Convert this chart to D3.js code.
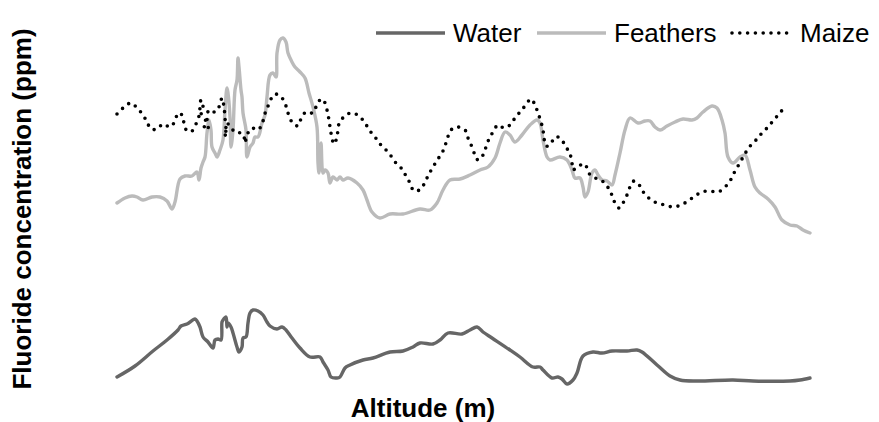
<!DOCTYPE html>
<html>
<head>
<meta charset="utf-8">
<script src="https://cdn.jsdelivr.net/npm/d3@7"></script>
<style>
    html, body { margin: 0; padding: 0; background: #fff; }
    svg text { font-family: "Liberation Sans", Arial, sans-serif; fill: #000; }
</style>
</head>
<body>
<svg id="chart"></svg>
<script>
// altitude (m) / fluoride (ppm) pairs
const waterAlt = [0, 72, 144, 200, 244, 256, 280, 312, 320, 332, 344, 364, 384, 392, 404, 416, 420, 424, 436, 440, 444, 456, 464, 480, 488, 500, 504, 516, 524, 532, 544, 564, 584, 600, 612, 640, 660, 676, 700, 732, 772, 812, 824, 844, 856, 880, 892, 912, 932, 984, 1024, 1092, 1144, 1184, 1212, 1264, 1292, 1324, 1380, 1412, 1440, 1464, 1500, 1572, 1612, 1664, 1692, 1704, 1740, 1764, 1780, 1800, 1824, 1840, 1864, 1904, 1940, 1980, 2040, 2080, 2100, 2160, 2212, 2252, 2320, 2464, 2544, 2692, 2732, 2772];
const waterPpm = [0.08, 0.19, 0.34, 0.45, 0.55, 0.59, 0.61, 0.66, 0.64, 0.58, 0.48, 0.43, 0.37, 0.45, 0.46, 0.45, 0.63, 0.65, 0.68, 0.58, 0.62, 0.58, 0.52, 0.38, 0.33, 0.38, 0.47, 0.48, 0.62, 0.72, 0.75, 0.74, 0.70, 0.63, 0.59, 0.56, 0.58, 0.55, 0.47, 0.37, 0.28, 0.28, 0.23, 0.15, 0.08, 0.07, 0.08, 0.17, 0.20, 0.25, 0.27, 0.33, 0.34, 0.38, 0.42, 0.41, 0.45, 0.52, 0.51, 0.55, 0.58, 0.53, 0.47, 0.35, 0.28, 0.18, 0.18, 0.15, 0.07, 0.08, 0.06, 0.01, 0.05, 0.12, 0.29, 0.33, 0.32, 0.34, 0.34, 0.35, 0.33, 0.20, 0.09, 0.05, 0.04, 0.05, 0.04, 0.04, 0.05, 0.07];

const feathersAlt = [0, 32, 60, 80, 104, 140, 172, 200, 220, 232, 252, 272, 300, 320, 328, 336, 344, 352, 360, 368, 376, 380, 392, 400, 412, 424, 432, 440, 444, 452, 456, 464, 472, 480, 484, 488, 496, 500, 504, 516, 520, 532, 544, 552, 564, 580, 592, 600, 612, 624, 636, 640, 652, 664, 676, 684, 700, 712, 732, 752, 768, 784, 800, 804, 808, 816, 824, 832, 844, 852, 864, 880, 892, 904, 924, 960, 984, 1000, 1020, 1052, 1092, 1144, 1212, 1252, 1280, 1304, 1332, 1372, 1412, 1452, 1484, 1512, 1532, 1552, 1572, 1592, 1620, 1652, 1680, 1692, 1704, 1720, 1732, 1772, 1800, 1820, 1832, 1852, 1864, 1872, 1884, 1900, 1912, 1924, 1940, 1960, 1980, 1992, 2012, 2032, 2052, 2084, 2112, 2132, 2152, 2172, 2200, 2232, 2264, 2300, 2320, 2344, 2380, 2400, 2420, 2432, 2444, 2464, 2492, 2512, 2532, 2552, 2572, 2604, 2632, 2660, 2692, 2720, 2744, 2772];
const feathersPpm = [1.82, 1.87, 1.89, 1.88, 1.85, 1.88, 1.88, 1.84, 1.76, 1.83, 2.06, 2.09, 2.09, 2.13, 2.05, 2.17, 2.23, 2.28, 2.52, 2.65, 2.55, 2.38, 2.32, 2.28, 2.35, 2.45, 2.75, 2.97, 2.92, 2.68, 2.38, 2.55, 2.95, 3.05, 3.27, 3.18, 2.95, 2.88, 2.72, 2.55, 2.28, 2.38, 2.42, 2.48, 2.48, 2.62, 2.70, 2.88, 3.10, 3.12, 3.08, 3.32, 3.45, 3.47, 3.43, 3.32, 3.23, 3.18, 3.13, 3.07, 2.92, 2.78, 2.58, 2.22, 2.12, 2.42, 2.12, 2.15, 2.12, 2.02, 2.08, 2.05, 2.08, 2.05, 2.07, 2.02, 1.95, 1.85, 1.73, 1.67, 1.71, 1.71, 1.76, 1.75, 1.82, 1.95, 2.05, 2.06, 2.10, 2.15, 2.18, 2.27, 2.42, 2.53, 2.50, 2.43, 2.50, 2.60, 2.65, 2.62, 2.45, 2.28, 2.25, 2.28, 2.25, 2.15, 2.07, 2.07, 1.98, 1.88, 1.93, 2.12, 2.15, 2.10, 2.05, 2.04, 2.00, 2.10, 2.32, 2.55, 2.67, 2.62, 2.64, 2.64, 2.58, 2.55, 2.59, 2.63, 2.66, 2.65, 2.67, 2.73, 2.79, 2.77, 2.65, 2.52, 2.28, 2.22, 2.28, 2.30, 2.15, 1.98, 1.92, 1.86, 1.78, 1.65, 1.60, 1.59, 1.55, 1.52];

const maizeAlt = [0, 24, 56, 80, 104, 120, 136, 160, 184, 212, 232, 244, 260, 268, 280, 300, 316, 328, 336, 344, 336, 348, 360, 344, 364, 360, 368, 384, 400, 412, 420, 428, 432, 436, 432, 444, 460, 476, 496, 508, 512, 520, 540, 560, 580, 588, 600, 612, 632, 660, 676, 684, 700, 724, 736, 756, 784, 796, 816, 828, 840, 848, 856, 868, 880, 888, 916, 944, 972, 992, 1012, 1032, 1052, 1076, 1096, 1116, 1140, 1156, 1172, 1188, 1216, 1232, 1248, 1264, 1284, 1304, 1316, 1336, 1360, 1392, 1404, 1420, 1432, 1444, 1464, 1476, 1488, 1504, 1524, 1548, 1572, 1592, 1612, 1632, 1656, 1672, 1684, 1696, 1704, 1708, 1716, 1732, 1752, 1772, 1796, 1812, 1820, 1824, 1840, 1872, 1884, 1904, 1936, 1960, 1976, 1988, 2008, 2024, 2040, 2052, 2068, 2092, 2108, 2132, 2160, 2192, 2224, 2256, 2284, 2312, 2340, 2372, 2404, 2432, 2452, 2468, 2484, 2500, 2516, 2536, 2560, 2580, 2604, 2624, 2648, 2668];
const maizePpm = [2.71, 2.77, 2.82, 2.77, 2.70, 2.63, 2.56, 2.56, 2.61, 2.58, 2.64, 2.72, 2.70, 2.62, 2.54, 2.54, 2.61, 2.69, 2.85, 2.79, 2.72, 2.67, 2.61, 2.57, 2.57, 2.67, 2.75, 2.73, 2.74, 2.81, 2.87, 2.78, 2.67, 2.55, 2.48, 2.61, 2.56, 2.52, 2.52, 2.48, 2.42, 2.50, 2.57, 2.55, 2.60, 2.69, 2.76, 2.84, 2.91, 2.87, 2.79, 2.72, 2.63, 2.59, 2.66, 2.73, 2.72, 2.78, 2.86, 2.84, 2.75, 2.65, 2.52, 2.41, 2.48, 2.61, 2.70, 2.72, 2.68, 2.62, 2.54, 2.48, 2.41, 2.35, 2.29, 2.22, 2.16, 2.09, 2.02, 1.94, 1.96, 2.03, 2.11, 2.18, 2.26, 2.34, 2.42, 2.55, 2.58, 2.55, 2.47, 2.38, 2.30, 2.25, 2.30, 2.38, 2.46, 2.53, 2.60, 2.57, 2.60, 2.67, 2.73, 2.79, 2.86, 2.80, 2.72, 2.63, 2.55, 2.47, 2.39, 2.40, 2.48, 2.47, 2.38, 2.31, 2.22, 2.15, 2.18, 2.21, 2.13, 2.08, 2.05, 1.99, 1.92, 1.84, 1.77, 1.82, 1.90, 1.98, 2.04, 1.99, 1.92, 1.86, 1.82, 1.80, 1.78, 1.80, 1.84, 1.89, 1.93, 1.94, 1.93, 1.98, 2.04, 2.12, 2.19, 2.26, 2.33, 2.40, 2.46, 2.52, 2.58, 2.64, 2.71, 2.77];

const seriesNames = ["Water", "Feathers", "Maize"];

(function () {
    document.addEventListener("DOMContentLoaded", () => {

        const width = 879, height = 422;
        const margin = { top: 35, right: 69, bottom: 37, left: 117 };

        const svg = d3.select("#chart")
            .attr("width", width)
            .attr("height", height);

        const x = d3.scaleLinear()
            .domain([0, 2772])
            .range([margin.left, width - margin.right]);

        const y = d3.scaleLinear()
            .domain([0, 3.5])
            .range([height - margin.bottom, margin.top]);

        const zip = (xs, ys) => xs.map((v, i) => [v, ys[i]]);

        const series = [
            { name: seriesNames[0], points: zip(waterAlt, waterPpm), stroke: "#666666", width: 3.4, dash: null },
            { name: seriesNames[1], points: zip(feathersAlt, feathersPpm), stroke: "#bbbbbb", width: 3.4, dash: null },
            { name: seriesNames[2], points: zip(maizeAlt, maizePpm), stroke: "#000000", width: 3.6, dash: "0 7.8" }
        ];

        const line = d3.line()
            .x(d => x(d[0]))
            .y(d => y(d[1]))
            .curve(d3.curveCatmullRom.alpha(0.5));

        // feathers under maize, water on its own
        svg.selectAll("path.series")
            .data([series[1], series[0], series[2]])
            .enter()
            .append("path")
            .attr("class", "series")
            .attr("d", d => line(d.points))
            .style("fill", "none")
            .style("stroke", d => d.stroke)
            .style("stroke-width", d => d.width)
            .style("stroke-linecap", "round")
            .style("stroke-linejoin", "round")
            .style("stroke-dasharray", d => d.dash);

        // legend
        const legendPos = [376, 537, 732];
        const legend = svg.selectAll("g.legend")
            .data(series)
            .enter()
            .append("g")
            .attr("class", "legend")
            .attr("transform", (d, i) => `translate(${legendPos[i]},33)`);

        legend.append("line")
            .attr("x1", 0).attr("x2", (d, i) => i == 2 ? 62 : 69)
            .attr("y1", 0).attr("y2", 0)
            .style("stroke", d => d.stroke)
            .style("stroke-width", d => d.width)
            .style("stroke-linecap", (d, i) => i == 2 ? "round" : "butt")
            .style("stroke-dasharray", d => d.dash);

        legend.append("text")
            .attr("x", (d, i) => i == 2 ? 68 : 77)
            .attr("y", 9)
            .style("font-size", "26px")
            .text(d => d.name);

        // axis titles
        svg.append("text")
            .attr("x", 423)
            .attr("y", 417)
            .attr("text-anchor", "middle")
            .style("font-size", "26px")
            .style("font-weight", "bold")
            .text("Altitude (m)");

        svg.append("text")
            .attr("transform", `translate(31,${(30 + 388) / 2}) rotate(-90)`)
            .attr("text-anchor", "middle")
            .style("font-size", "26px")
            .style("font-weight", "bold")
            .text("Fluoride concentration (ppm)");
    });
})();
</script>
</body>
</html>
